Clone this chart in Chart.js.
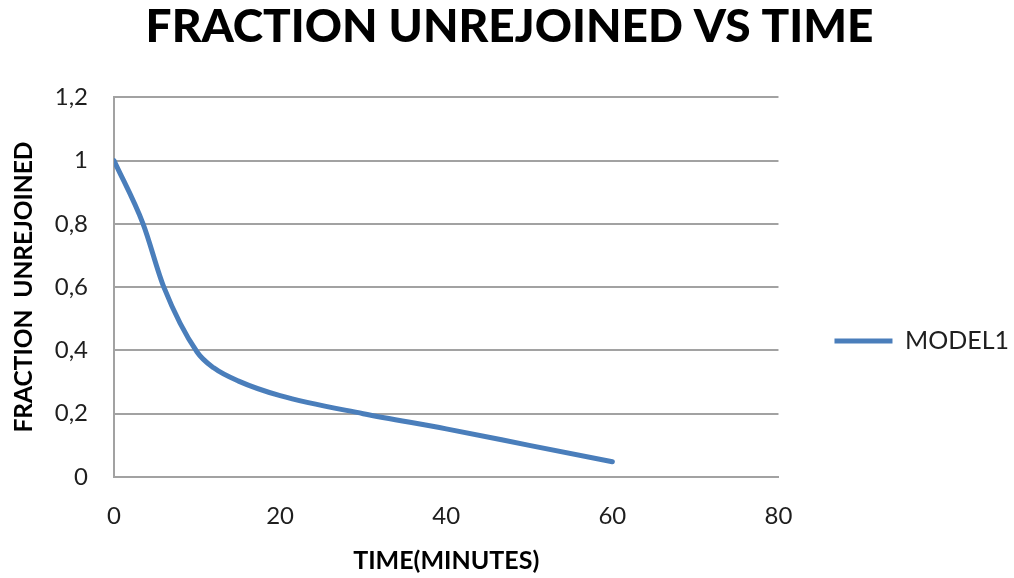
<!DOCTYPE html>
<html>
<head>
<meta charset="utf-8">
<title>Fraction unrejoined vs time</title>
<script src="https://cdn.jsdelivr.net/npm/chart.js@4.4.1/dist/chart.umd.min.js"></script>
<style>
  html, body { margin: 0; padding: 0; background: #ffffff; }
  #wrap { position: relative; width: 1014px; height: 578px; }
</style>
</head>
<body>
<div id="wrap"><canvas id="chart" width="1014" height="578"></canvas></div>
<script>
// Model output: fraction of breaks still unrejoined over time
const timeMinutes        = [0,    3.5,  6,    10,    12,    15,    20,    30,   40,    50,   60];
const fractionUnrejoined = [1.00, 0.80, 0.60, 0.395, 0.345, 0.303, 0.257, 0.20, 0.152, 0.10, 0.048];

const seriesName = 'MODEL1';
const xTicks = [0, 20, 40, 60, 80];
const yTickLabels = ['0', '0,2', '0,4', '0,6', '0,8', '1', '1,2'];

const points = timeMinutes.map((t, i) => ({ x: t, y: fractionUnrejoined[i] }));

const LINE_BLUE = '#4a7ebb';
const GRID_GREY = '#a2a2a2';
const TEXT = '#1e1e1e';
const FONT = "Lato, 'Open Sans', 'Liberation Sans', sans-serif";

new Chart(document.getElementById('chart'), {
  type: 'scatter',
  data: {
    datasets: [{
      label: seriesName,
      data: points,
      showLine: true,
      borderColor: LINE_BLUE,
      backgroundColor: LINE_BLUE,
      borderWidth: 5,
      borderCapStyle: 'round',
      borderJoinStyle: 'round',
      cubicInterpolationMode: 'monotone',
      pointRadius: 0,
      pointHoverRadius: 0
    }]
  },
  options: {
    responsive: false,
    animation: false,
    layout: { padding: { left: 0, right: -5, top: 0, bottom: 0 } },
    plugins: {
      tooltip: { enabled: false },
      title: {
        display: true,
        text: 'FRACTION UNREJOINED VS TIME',
        color: '#000000',
        font: { family: FONT, size: 46, weight: '900' },
        padding: { top: 0, bottom: 42 }
      },
      legend: {
        display: true,
        position: 'right',
        // empty legend heading only pushes the entry down a little
        title: { display: true, text: '', font: { size: 10 }, padding: { top: 46, bottom: 46 } },
        labels: {
          color: TEXT,
          font: { family: FONT, size: 25 },
          usePointStyle: true,
          pointStyle: 'line',
          boxWidth: 51,
          pointStyleWidth: 58,
          padding: 56
        }
      }
    },
    scales: {
      x: {
        type: 'linear',
        min: 0,
        max: 80,
        afterBuildTicks: (scale) => { scale.ticks = xTicks.map(v => ({ value: v })); },
        afterFit: (scale) => { scale.height = 101; },
        grid: { display: false, drawTicks: false },
        border: { display: true, color: GRID_GREY, width: 2 },
        ticks: {
          color: TEXT,
          font: { family: FONT, size: 24 },
          padding: 25,
          maxRotation: 0
        },
        title: {
          display: true,
          text: 'TIME(MINUTES)',
          color: '#000000',
          font: { family: FONT, size: 25, weight: 'bold' },
          padding: { top: 0, bottom: 2 }
        }
      },
      y: {
        type: 'linear',
        min: 0,
        max: 1.2,
        ticks: {
          stepSize: 0.2,
          color: TEXT,
          font: { family: FONT, size: 24 },
          padding: 26,
          callback: (value, index) => yTickLabels[index]
        },
        afterFit: (scale) => { scale.width = 114; },
        grid: { color: GRID_GREY, lineWidth: 2, drawTicks: false },
        border: { display: true, color: GRID_GREY, width: 2 },
        title: {
          display: true,
          text: 'FRACTION  UNREJOINED',
          color: '#000000',
          font: { family: FONT, size: 24.5, weight: 'bold' },
          padding: { top: 9, bottom: 0 }
        }
      }
    }
  }
});
</script>
</body>
</html>
